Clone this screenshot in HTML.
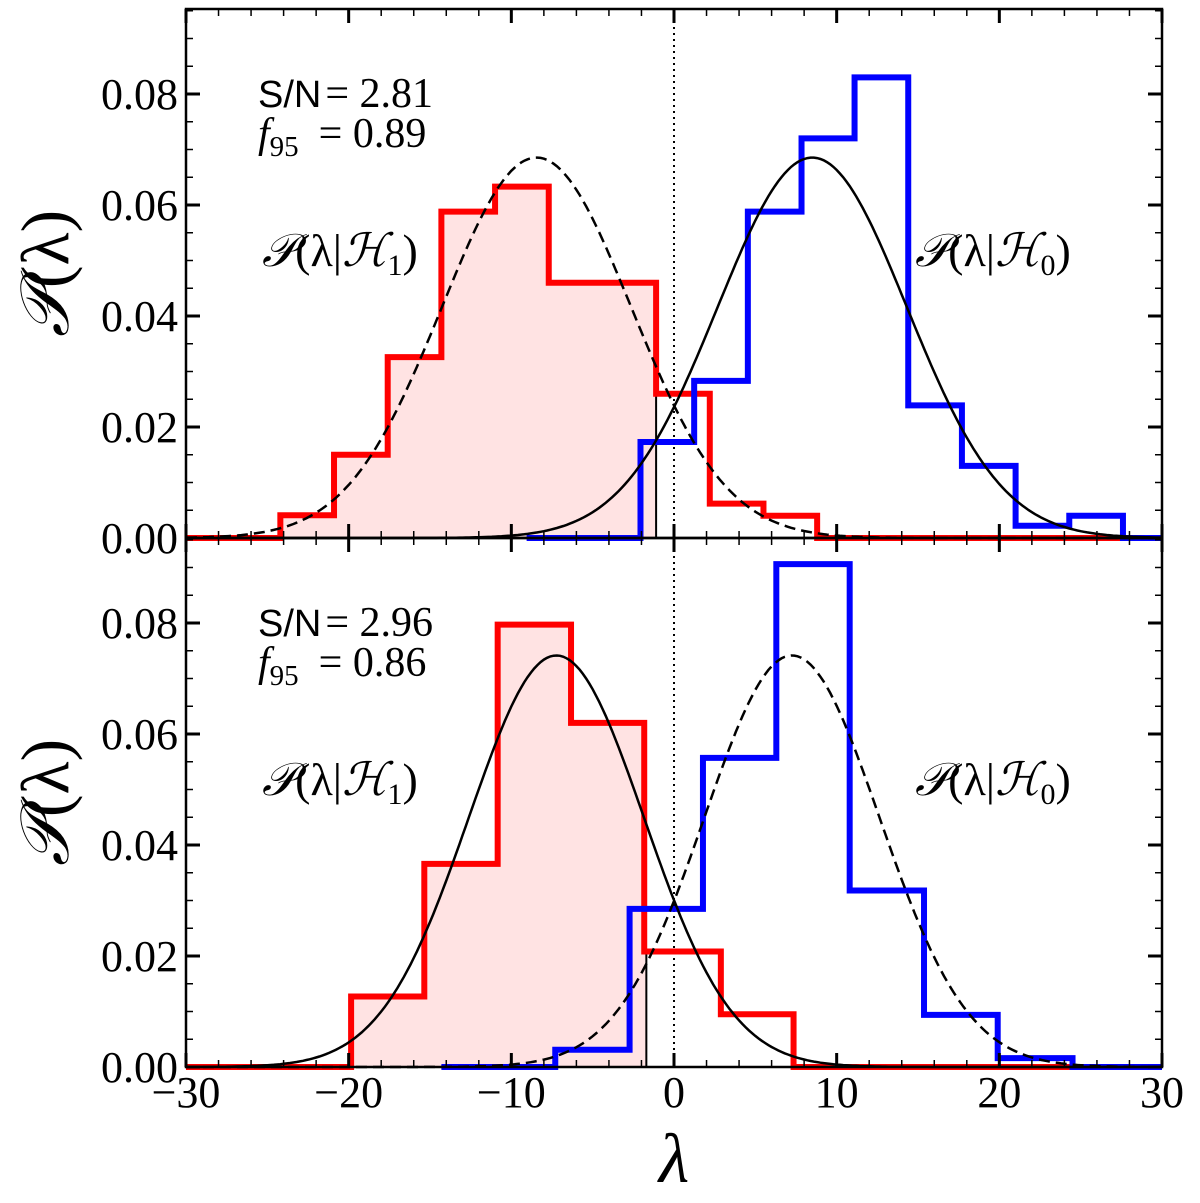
<!DOCTYPE html>
<html><head><meta charset="utf-8"><style>
html,body{margin:0;padding:0;background:#fff;}
svg{display:block;font-family:"Liberation Serif",serif;}
</style></head><body>
<svg id="c" width="1200" height="1203" viewBox="0 0 1200 1203" xmlns="http://www.w3.org/2000/svg"></svg>
<script>
// ---- data ----
const xTicks = [-30,-20,-10,0,10,20,30];
const yTicks = [0,0.02,0.04,0.06,0.08];
const yTickLabels = ["0.00","0.02","0.04","0.06","0.08"];
// top panel
const topRedEdges = [-24.2,-20.9,-17.6,-14.3,-11.0,-7.7,-4.4,-1.1,2.2,5.5,8.8];
const topRedVals = [0.0041,0.015,0.0326,0.0588,0.0633,0.046,0.046,0.026,0.0062,0.004];
const topBlueEdges = [-2.06,1.24,4.54,7.84,11.1,14.4,17.7,21.0,24.3,27.6];
const topBlueVals = [0.0173,0.0283,0.0588,0.072,0.083,0.0239,0.013,0.0022,0.004];
const topThreshold = -1.1;
const topGauss = {h1Mean:-8.45, h0Mean:8.5, sigma:5.82};
const topText = ["2.81","0.89"];
// bottom panel
const botRedEdges = [-19.85,-15.35,-10.84,-6.33,-1.83,2.88,7.35];
const botRedVals = [0.0127,0.0366,0.0797,0.062,0.0208,0.0095];
const botBlueEdges = [-7.3,-2.73,1.78,6.29,10.8,15.37,19.9,24.5];
const botBlueVals = [0.0031,0.0285,0.0557,0.0906,0.0318,0.0094,0.0016];
const botThreshold = -1.7;
const botGauss = {h1Mean:-7.23, h0Mean:7.25, sigma:5.38};
const botText = ["2.96","0.86"];

const NS="http://www.w3.org/2000/svg";
const svg=document.getElementById('c');
const X0=186,X1=1162;
const xs=v=>X0+(v+30)/60*(X1-X0);
function mk(tag,attrs,parent){const e=document.createElementNS(NS,tag);for(const k in attrs)e.setAttribute(k,attrs[k]);(parent||svg).appendChild(e);return e;}
function stepPath(edges,vals,ys,startX){
  let d=`M${xs(startX)},${ys(0)} L${xs(edges[0])},${ys(0)}`;
  for(let i=0;i<vals.length;i++){d+=` L${xs(edges[i])},${ys(vals[i])} L${xs(edges[i+1])},${ys(vals[i])}`;}
  d+=` L${xs(edges[edges.length-1])},${ys(0)} L${xs(30)},${ys(0)}`;
  return d;
}
function fillPath(edges,vals,ys,thr){
  let d=`M${xs(edges[0])},${ys(0)}`;
  for(let i=0;i<vals.length;i++){
    if(edges[i]>=thr)break;
    const r=Math.min(edges[i+1],thr);
    d+=` L${xs(edges[i])},${ys(vals[i])} L${xs(r)},${ys(vals[i])}`;
  }
  d+=` L${xs(thr)},${ys(0)} Z`;return d;
}
function gauss(m,s,x){return Math.exp(-0.5*((x-m)/s)**2)/(Math.sqrt(2*Math.PI)*s);}
function gPath(m,s,ys){let d='';for(let x=-30;x<=30.001;x+=0.2){d+=(d?' L':'M')+xs(x).toFixed(1)+','+ys(gauss(m,s,x)).toFixed(1);}return d;}

function panel(name,top,bottom,redE,redV,blueE,blueV,thr,g,txt,solidIsH0,showX){
  const ymax=(bottom-top)/5550;
  const ys=v=>bottom-v/ymax*(bottom-top);
  const G=mk('g',{});
  
  
  const fill=mk('path',{d:fillPath(redE,redV,ys,thr),fill:'#ffe3e3',stroke:'none'},G);
  
  
  const dot=mk('line',{x1:xs(0),x2:xs(0),y1:top,y2:bottom,stroke:'#000','stroke-width':2,'stroke-dasharray':'2,4'},G);
  
  
  let ti=0;for(let i=0;i<redV.length;i++){if(redE[i]<=thr&&redE[i+1]>=thr)ti=i;}
  const th=mk('line',{x1:xs(thr),x2:xs(thr),y1:ys(0),y2:ys(redV[ti]),stroke:'#000','stroke-width':2},G);
  
  
  const rp=mk('path',{d:stepPath(redE,redV,ys,-30),fill:'none',stroke:'#ff0000','stroke-width':6,'stroke-linejoin':'miter'},G);
  
  
  const bp=mk('path',{d:stepPath(blueE,blueV,ys,blueE[0]-7),fill:'none',stroke:'#0000ff','stroke-width':6,'stroke-linejoin':'miter'},G);
  
  
  const g1=mk('path',{d:gPath(g.h1Mean,g.sigma,ys),fill:'none',stroke:'#000','stroke-width':2.5,'stroke-dasharray':solidIsH0?'11,6':'none'},G);
  
  
  const g0=mk('path',{d:gPath(g.h0Mean,g.sigma,ys),fill:'none',stroke:'#000','stroke-width':2.5,'stroke-dasharray':solidIsH0?'none':'11,6'},G);
  
  
  const fr=mk('rect',{x:X0,y:top,width:X1-X0,height:bottom-top,fill:'none',stroke:'#000','stroke-width':2.5},G);
  
  
  for(let v=-30;v<=30;v+=2){
    const maj=v%10===0,L=maj?14:7;
    mk('line',{x1:xs(v),x2:xs(v),y1:bottom,y2:bottom-L,stroke:'#000','stroke-width':maj?3:1.5},G);
    mk('line',{x1:xs(v),x2:xs(v),y1:top,y2:top+L,stroke:'#000','stroke-width':maj?3:1.5},G);
  }
  for(let k=0;k*0.005<=ymax+1e-9;k++){
    const v=k*0.005,maj=k%4===0,L=maj?14:7,y=ys(v);
    mk('line',{x1:X0,x2:X0+L,y1:y,y2:y,stroke:'#000','stroke-width':maj?3:1.5},G);
    mk('line',{x1:X1,x2:X1-L,y1:y,y2:y,stroke:'#000','stroke-width':maj?3:1.5},G);
  }
  yTicks.forEach((v,i)=>{
    const t=mk('text',{x:178,y:ys(v)+15,'text-anchor':'end','font-size':44},G);
    t.textContent=yTickLabels[i];
    
    
  });
  if(showX){xTicks.forEach(v=>{
    const t=mk('text',{x:xs(v),y:bottom+40,'text-anchor':'middle','font-size':44},G);
    t.textContent=(v<0?'\u2212':'')+Math.abs(v);
    
    
  });}
  const s1=mk('text',{x:258,y:top+98,'font-size':42},G);
  s1.innerHTML='<tspan font-family="Liberation Sans, sans-serif" font-size="38">S/N</tspan><tspan dx="4">= '+txt[0]+'</tspan>';
  
  
  const s2=mk('text',{x:258,y:top+138,'font-size':42},G);
  s2.innerHTML='<tspan font-style="italic">f</tspan><tspan font-size="29" dy="9">95</tspan><tspan dy="-9" dx="20">= '+txt[1]+'</tspan>';
  
  
  const l1=mk('text',{x:262,y:top+257,'font-size':46},G);
  l1.innerHTML='<tspan font-style="italic">𝒫</tspan>(λ|<tspan font-style="italic">ℋ</tspan><tspan font-size="30" dy="9">1</tspan><tspan dy="-9">)</tspan>';
  
  
  const l0=mk('text',{x:915,y:top+257,'font-size':46},G);
  l0.innerHTML='<tspan font-style="italic">𝒫</tspan>(λ|<tspan font-style="italic">ℋ</tspan><tspan font-size="30" dy="9">0</tspan><tspan dy="-9">)</tspan>';
  
  
  const yl=mk('text',{x:0,y:0,'font-size':68,'text-anchor':'middle',transform:`translate(68,${(top+bottom)/2}) rotate(-90)`},G);
  yl.innerHTML='<tspan font-style="italic">𝒫</tspan>(λ)';
  
  
}
panel('top-panel',9,538,topRedEdges,topRedVals,topBlueEdges,topBlueVals,topThreshold,topGauss,topText,true,false);
panel('bottom-panel',538,1067,botRedEdges,botRedVals,botBlueEdges,botBlueVals,botThreshold,botGauss,botText,false,true);
const xl=mk('text',{x:674,y:1182,'font-size':70,'font-style':'italic','text-anchor':'middle'});
xl.textContent='λ';


</script>
</body></html>
